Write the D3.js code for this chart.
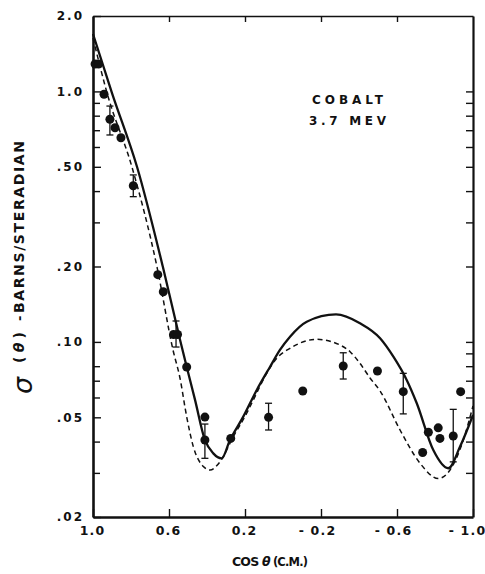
<!DOCTYPE html>
<meta charset="utf-8">

<!-- Load d3.js -->
<script src="https://d3js.org/d3.v7.min.js"></script>

<style>
    body { margin: 0; background: #fff; }
    text { font-family: "DejaVu Sans", sans-serif; fill: #111; }
</style>

<!-- Create a div where the graph will take place -->
<div id="my_dataviz"></div>

<script>

    // solid curve
    var solidCos = [1.000, 0.900, 0.768, 0.632, 0.542, 0.507, 0.463, 0.411, 0.367, 0.323, 0.279, 0.209, 0.138,
        0.068, 0.016, -0.037, -0.125, -0.279, -0.405, -0.511, -0.581, -0.651, -0.704, -0.791, -0.870, -0.932, -1.000];
    var solidSigma = [1.695, 0.985, 0.499, 0.199, 0.102, 0.0796, 0.0587, 0.0406, 0.0359, 0.0343, 0.0406, 0.0503, 0.0643,
        0.0796, 0.0929, 0.1049, 0.1204, 0.1287, 0.1187, 0.1034, 0.0873, 0.0705, 0.0569, 0.0370, 0.0313, 0.0382, 0.0511];

    // dashed curve
    var dashedCos = [1.000, 0.926, 0.795, 0.663, 0.579, 0.542, 0.507, 0.472, 0.419, 0.384, 0.332, 0.262, 0.191, 0.156,
        0.086, 0.033, -0.037, -0.177, -0.300, -0.353, -0.405, -0.458, -0.511, -0.616, -0.721, -0.817, -0.879, -0.949, -1.000];
    var dashedSigma = [1.634, 0.985, 0.499, 0.199, 0.0929, 0.0716, 0.0503, 0.0382, 0.0318, 0.0308, 0.0332, 0.0418, 0.0519, 0.0587,
        0.0749, 0.0860, 0.0943, 0.1024, 0.0972, 0.0914, 0.0821, 0.0718, 0.0637, 0.0445, 0.0328, 0.0285, 0.0308, 0.0406, 0.0555];

    // measured points
    var pointCos = [0.989, 0.971, 0.942, 0.911, 0.884, 0.853, 0.788, 0.659, 0.630, 0.576, 0.555, 0.507, 0.411, 0.411,
        0.275, 0.076, -0.104, -0.317, -0.497, -0.633, -0.735, -0.765, -0.817, -0.826, -0.896, -0.935];
    var pointSigma = [1.287, 1.287, 0.974, 0.774, 0.716, 0.653, 0.420, 0.1855, 0.1586, 0.1071, 0.1071, 0.0794, 0.0501, 0.0406,
        0.0412, 0.0500, 0.0637, 0.0801, 0.0765, 0.0633, 0.0362, 0.0436, 0.0454, 0.0412, 0.0421, 0.0633];

    // error bars
    var barCos = [0.911, 0.788, 0.563, 0.411, 0.076, -0.317, -0.633, -0.896];
    var barLow = [0.670, 0.380, 0.0954, 0.0343, 0.0445, 0.0711, 0.0516, 0.0332];
    var barHigh = [0.874, 0.464, 0.1212, 0.0470, 0.0569, 0.0905, 0.0749, 0.0538];

    // ticks
    var xTicks = [1.0, 0.6, 0.2, -0.2, -0.6, -1.0];
    var xTickLabels = ["1.0", "0.6", "0.2", "- 0.2", "- 0.6", "- 1.0"];
    var yTicks = [2, 1, 0.5, 0.2, 0.1, 0.05, 0.02];
    var yTickLabels = ["2.0", "1.0", ".50", ".20", ".10", ".05", ".02"];
    var leftMinor = [0.9, 0.8, 0.7, 0.6, 0.4, 0.3, 0.08, 0.07, 0.06, 0.04, 0.03];
    var rightMinor = [1, 0.9, 0.8, 0.7, 0.6, 0.5, 0.4, 0.3, 0.2, 0.1, 0.09, 0.08, 0.07, 0.06, 0.05, 0.04, 0.03];

    // set the dimensions and margins of the graph
    var margin = { top: 16, right: 12, bottom: 57, left: 93 },
        width = 485 - margin.left - margin.right,
        height = 574 - margin.top - margin.bottom;

    var root = d3.select("#my_dataviz")
        .append("svg")
        .attr("width", 485)
        .attr("height", 574);
    var svg = root.append("g")
        .attr("transform", "translate(" + margin.left + "," + margin.top + ")");

    var x = d3.scaleLinear().domain([1, -1]).range([0, width]);
    var y = d3.scaleLog().domain([0.02, 2]).range([height, 0]);

    // spread the letters of a text so that it is `target` px long
    function fit(t, target) {
        var n = t.text().length;
        var len = t.node().getComputedTextLength();
        t.attr("letter-spacing", ((target - len) / Math.max(n - 1, 1)).toFixed(2));
    }

    // axes, ticks pointing inward
    function styleAxis(g, w) {
        g.select(".domain").attr("stroke", "#111").attr("stroke-width", w);
        g.selectAll(".tick line").attr("stroke", "#111").attr("stroke-width", 1.4);
        g.selectAll(".tick text").attr("font-size", 12).attr("letter-spacing", 2)
            .attr("font-family", "DejaVu Sans").attr("font-weight", "bold").attr("fill", "#111");
    }

    var leftAxis = svg.append("g")
        .call(d3.axisLeft(y).tickValues(yTicks).tickSizeInner(-8).tickSizeOuter(0).tickPadding(9)
            .tickFormat(function (d, i) { return yTickLabels[i]; }));
    styleAxis(leftAxis, 2.6);
    svg.append("g")
        .call(d3.axisLeft(y).tickValues(leftMinor).tickSizeInner(-7).tickSizeOuter(0).tickFormat(""))
        .call(function (g) { g.select(".domain").remove(); styleAxis(g, 0); });

    var rightAxis = svg.append("g")
        .attr("transform", "translate(" + width + ",0)")
        .call(d3.axisRight(y).tickValues(rightMinor).tickSizeInner(-7).tickSizeOuter(0).tickFormat(""));
    styleAxis(rightAxis, 2.2);

    var bottomAxis = svg.append("g")
        .attr("transform", "translate(0," + height + ")")
        .call(d3.axisBottom(x).tickValues(xTicks).tickSizeInner(-8).tickSizeOuter(0).tickPadding(9)
            .tickFormat(function (d, i) { return xTickLabels[i]; }));
    styleAxis(bottomAxis, 2.6);
    bottomAxis.selectAll(".tick text").attr("font-size", 12.5).attr("letter-spacing", 1.2)
        .attr("dx", function (d) { return d == -1 ? -6 : (d < 0 ? -4 : -1); });

    var topAxis = svg.append("g")
        .call(d3.axisTop(x).tickValues(xTicks.slice(1, 5)).tickSizeInner(-6).tickSizeOuter(0).tickFormat(""));
    styleAxis(topAxis, 1.6);

    // curves
    var line = d3.line()
        .x(function (d) { return x(d[0]); })
        .y(function (d) { return y(d[1]); })
        .curve(d3.curveMonotoneX);

    svg.append("path")
        .datum(d3.zip(solidCos, solidSigma))
        .attr("fill", "none")
        .attr("stroke", "#111")
        .attr("stroke-width", 2.3)
        .attr("d", line);

    svg.append("path")
        .datum(d3.zip(dashedCos, dashedSigma))
        .attr("fill", "none")
        .attr("stroke", "#111")
        .attr("stroke-width", 1.5)
        .attr("stroke-dasharray", "5,3.5")
        .attr("d", line);

    // error bars
    var bars = svg.selectAll(".bar")
        .data(d3.zip(barCos, barLow, barHigh))
        .enter().append("g")
        .attr("class", "bar")
        .attr("stroke", "#111")
        .attr("stroke-width", 1.3);
    bars.append("line")
        .attr("x1", function (d) { return x(d[0]); }).attr("x2", function (d) { return x(d[0]); })
        .attr("y1", function (d) { return y(d[1]); }).attr("y2", function (d) { return y(d[2]); });
    bars.append("line")
        .attr("x1", function (d) { return x(d[0]) - 3.5; }).attr("x2", function (d) { return x(d[0]) + 3.5; })
        .attr("y1", function (d) { return y(d[1]); }).attr("y2", function (d) { return y(d[1]); });
    bars.append("line")
        .attr("x1", function (d) { return x(d[0]) - 3.5; }).attr("x2", function (d) { return x(d[0]) + 3.5; })
        .attr("y1", function (d) { return y(d[2]); }).attr("y2", function (d) { return y(d[2]); });

    // data points
    svg.selectAll(".dot")
        .data(d3.zip(pointCos, pointSigma))
        .enter().append("circle")
        .attr("class", "dot")
        .attr("cx", function (d) { return x(d[0]); })
        .attr("cy", function (d) { return y(d[1]); })
        .attr("r", 4.5)
        .attr("fill", "#111");

    // annotation
    var t1 = root.append("text")
        .attr("x", 312).attr("y", 103.5)
        .attr("font-size", 12).attr("font-weight", "bold")
        .text("COBALT");
    fit(t1, 71);
    var t2 = root.append("text")
        .attr("x", 309).attr("y", 125)
        .attr("font-size", 12).attr("font-weight", "bold")
        .text("3.7 MEV");
    fit(t2, 77);

    // x axis title
    var xt = root.append("text")
        .attr("x", 232).attr("y", 565.5)
        .attr("font-size", 12.5).attr("font-weight", "bold")
        .attr("textLength", 76).attr("lengthAdjust", "spacing");
    xt.append("tspan").text("COS ");
    xt.append("tspan").attr("font-style", "italic").text("θ");
    xt.append("tspan").attr("font-size", 11.5).text(" (C.M.)");

    // y axis title, written upward in pieces
    function yPart(yStart, size) {
        return root.append("text")
            .attr("transform", "translate(23.5," + yStart + ") rotate(-90)")
            .attr("font-size", size)
            .attr("font-weight", "bold");
    }
    yPart(394, 27).attr("font-weight", "normal").attr("font-style", "italic").attr("dy", 8).text("σ");
    var p1 = yPart(363, 14);
    p1.append("tspan").text("(");
    p1.append("tspan").attr("font-style", "italic").text("θ");
    p1.append("tspan").text(")");
    fit(p1, 31);
    yPart(321, 13).text("-");
    var p3 = yPart(313, 14).text("BARNS/STERADIAN");
    fit(p3, 172);

</script>
